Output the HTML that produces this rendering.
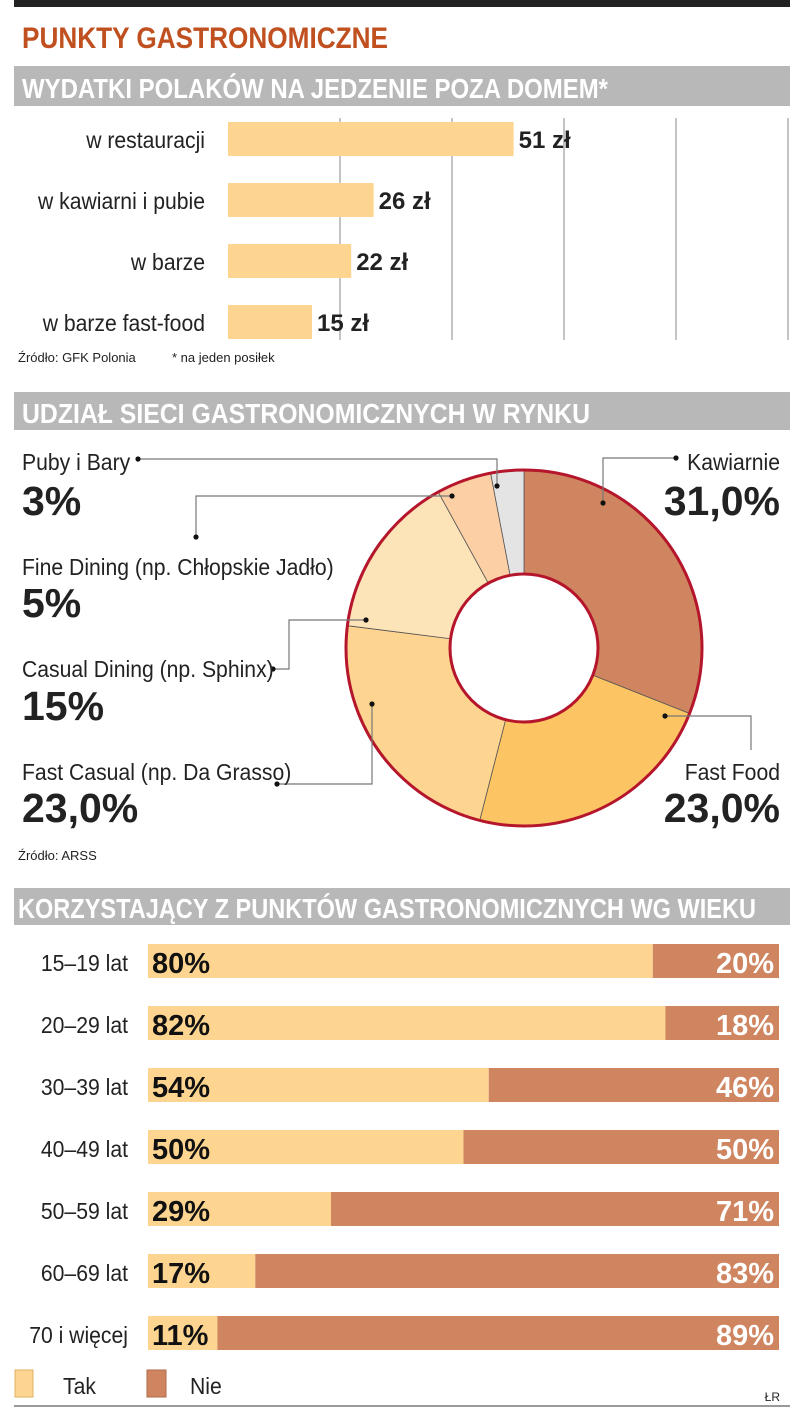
<!DOCTYPE html>
<html><head><meta charset="utf-8">
<style>
html,body{margin:0;padding:0;background:#fff;}
svg{display:block;font-family:"Liberation Sans Narrow","Liberation Sans",sans-serif;}
</style></head>
<body>
<svg id="chart" width="805" height="1417" viewBox="0 0 805 1417" xmlns="http://www.w3.org/2000/svg">
<rect x="14" y="0" width="776" height="7" fill="#222"/>
<text x="22" y="48" font-size="30" font-weight="bold" fill="#c0501f" textLength="366" lengthAdjust="spacingAndGlyphs">PUNKTY GASTRONOMICZNE</text>

<rect x="14" y="66" width="776" height="40" fill="#b8b8b8"/>
<text x="22" y="98" font-size="28" font-weight="bold" fill="#fff" textLength="586" lengthAdjust="spacingAndGlyphs">WYDATKI POLAKÓW NA JEDZENIE POZA DOMEM*</text>
<g id="g1"></g>
<text x="18" y="362" font-size="13" fill="#222">Źródło: GFK Polonia</text>
<text x="172" y="362" font-size="13" fill="#222">* na jeden posiłek</text>

<rect x="14" y="392" width="776" height="38" fill="#b8b8b8"/>
<text x="22" y="423" font-size="28" font-weight="bold" fill="#fff" textLength="568" lengthAdjust="spacingAndGlyphs">UDZIAŁ SIECI GASTRONOMICZNYCH W RYNKU</text>
<g id="g2"></g>
<text x="18" y="860" font-size="13" fill="#222">Źródło: ARSS</text>

<rect x="14" y="888" width="776" height="37" fill="#b8b8b8"/>
<text x="18" y="918" font-size="28" font-weight="bold" fill="#fff" textLength="738" lengthAdjust="spacingAndGlyphs">KORZYSTAJĄCY Z PUNKTÓW GASTRONOMICZNYCH WG WIEKU</text>
<g id="g3"></g>

<rect x="15" y="1370" width="18" height="27" fill="#fdd590" stroke="#e0b060"/>
<text x="63" y="1394" font-size="23" fill="#222">Tak</text>
<rect x="147" y="1370" width="19" height="27" fill="#cf8560" stroke="#b06a48"/>
<text x="190" y="1394" font-size="23" fill="#222">Nie</text>
<text x="780" y="1401" font-size="12" fill="#222" text-anchor="end">ŁR</text>
<rect x="14" y="1405" width="776" height="2" fill="#999"/>
</svg>
<script>
var expCategories = ["w restauracji","w kawiarni i pubie","w barze","w barze fast-food"];
var expValues = [51,26,22,15];
var expLabels = ["51 zł","26 zł","22 zł","15 zł"];

var pieCategories = ["Kawiarnie","Fast Food","Fast Casual (np. Da Grasso)","Casual Dining (np. Sphinx)","Fine Dining (np. Chłopskie Jadło)","Puby i Bary"];
var pieValues = [31,23,23,15,5,3];
var pieLabels = ["31,0%","23,0%","23,0%","15%","5%","3%"];

var ageCategories = ["15–19 lat","20–29 lat","30–39 lat","40–49 lat","50–59 lat","60–69 lat","70 i więcej"];
var ageYes = [80,82,54,50,29,17,11];
var ageNo = [20,18,46,50,71,83,89];

var NS="http://www.w3.org/2000/svg";
function mk(tag,attrs,parent,txt){var e=document.createElementNS(NS,tag);for(var k in attrs)e.setAttribute(k,attrs[k]);if(txt!==undefined)e.textContent=txt;parent.appendChild(e);return e;}

// Chart 1
var g1=document.getElementById('g1');
var x1=function(v){return 228+v*5.6;};
[340,452,564,676,788].forEach(function(gx){
  var l=mk('line',{x1:gx,y1:118,x2:gx,y2:340,stroke:'#888','stroke-width':1},g1);
  
  
});
expValues.forEach(function(v,i){
  var y=122+i*61;
  var r=mk('rect',{x:228,y:y,width:x1(v)-228,height:34,fill:'#fdd590'},g1);
  
  
  var t=mk('text',{x:205,y:y+26,'font-size':23,fill:'#222','text-anchor':'end'},g1,expCategories[i]);
  
  
  var vl=mk('text',{x:x1(v)+5,y:y+26,'font-size':24,'font-weight':'bold',fill:'#222'},g1,expLabels[i]);
  
  
});

// Donut
var g2=document.getElementById('g2');
var cx=524,cy=648,R=178,r0=74;
var colors=['#cf8560','#fdc463','#fdd590','#fde3b8','#fccfa5','#e4e4e4'];
var total=pieValues.reduce(function(a,b){return a+b;},0);
function pt(a,rad){return [cx+rad*Math.sin(a),cy-rad*Math.cos(a)];}
var acc=0;
pieValues.forEach(function(v,i){
  var a0=acc/total*2*Math.PI; acc+=v; var a1=acc/total*2*Math.PI;
  var large=(a1-a0)>Math.PI?1:0;
  var p0=pt(a0,R),p1=pt(a1,R),q1=pt(a1,r0),q0=pt(a0,r0);
  var d='M'+p0+' A'+R+' '+R+' 0 '+large+' 1 '+p1+' L'+q1+' A'+r0+' '+r0+' 0 '+large+' 0 '+q0+' Z';
  var p=mk('path',{d:d,fill:colors[i],stroke:'#555','stroke-width':0.8},g2);
  
  
});
mk('circle',{cx:cx,cy:cy,r:R,fill:'none',stroke:'#b5162b','stroke-width':3},g2);
mk('circle',{cx:cx,cy:cy,r:r0,fill:'#fff',stroke:'#b5162b','stroke-width':3},g2);

var leaders=[
  "M603,503 L603,458 L676,458",
  "M665,716 L751,716 L751,750",
  "M372,704 L372,784 L277,784",
  "M366,620 L289,620 L289,669 L273,669",
  "M452,496 L196,496 L196,537",
  "M497,486 L497,459 L138,459"
];
var dots=[[603,503],[676,458],[665,716],[372,704],[277,784],[366,620],[273,669],[452,496],[196,537],[497,486],[138,459]];
leaders.forEach(function(d){
  var l=mk('path',{d:d,fill:'none',stroke:'#777','stroke-width':1.2},g2);
  
  
});
dots.forEach(function(c){mk('circle',{cx:c[0],cy:c[1],r:2.6,fill:'#111'},g2);});

var labelPos=[[780,470,515,'end'],[780,780,822,'end'],[22,780,822,'start'],[22,677,720,'start'],[22,575,617,'start'],[22,470,515,'start']];
pieCategories.forEach(function(c,i){
  var lp=labelPos[i];
  var t=mk('text',{x:lp[0],y:lp[1],'font-size':23,fill:'#222','text-anchor':lp[3]},g2,c);
  
  
  var v=mk('text',{x:lp[0],y:lp[2],'font-size':41,'font-weight':'bold',fill:'#222','text-anchor':lp[3]},g2,pieLabels[i]);
  
  
});

// Age chart
var g3=document.getElementById('g3');
var bx=148,bw=631;
var xa=function(p){return bx+p/100*bw;};
ageCategories.forEach(function(c,i){
  var y=944+i*62;
  var a=mk('rect',{x:bx,y:y,width:xa(ageYes[i])-bx,height:34,fill:'#fdd590'},g3);
  
  
  var b=mk('rect',{x:xa(ageYes[i]),y:y,width:xa(ageYes[i]+ageNo[i])-xa(ageYes[i]),height:34,fill:'#cf8560'},g3);
  
  
  var t=mk('text',{x:128,y:y+27,'font-size':23,fill:'#222','text-anchor':'end'},g3,c);
  
  
  var t1=mk('text',{x:152,y:y+29,'font-size':29,'font-weight':'bold',fill:'#111'},g3,ageYes[i]+'%');
  
  
  var t2=mk('text',{x:774,y:y+29,'font-size':29,'font-weight':'bold',fill:'#fff','text-anchor':'end'},g3,ageNo[i]+'%');
  
  
});

// Mildly condense regular (non-bold) large text to mimic narrow typeface
Array.prototype.forEach.call(document.querySelectorAll('text'),function(t){
  if(t.hasAttribute('textLength'))return;
  if(t.getAttribute('font-weight')==='bold')return;
  if(parseFloat(t.getAttribute('font-size'))<20)return;
  var w=t.getComputedTextLength();
  if(w>0){t.setAttribute('textLength',(w*0.92).toFixed(1));t.setAttribute('lengthAdjust','spacingAndGlyphs');}
});
</script>
</body></html>
